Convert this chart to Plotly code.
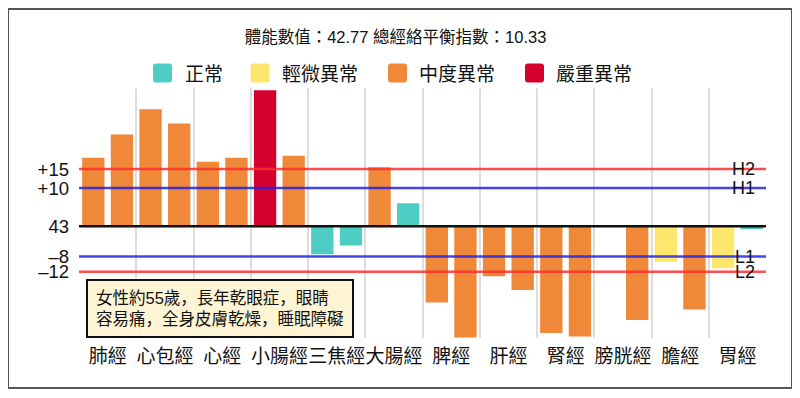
import plotly.graph_objects as go

# ---------------- data ----------------
meridians = ["肺經", "心包經", "心經", "小腸經", "三焦經", "大腸經",
             "脾經", "肝經", "腎經", "膀胱經", "膽經", "胃經"]
left_values = [18.0, 30.7, 16.9, 35.7, -7.4, 15.5, -20.1, -13.2, -28.1, 0.0, -9.4, -11.1]
right_values = [24.1, 27.0, 18.0, 18.5, -5.1, 6.0, -29.3, -16.8, -29.0, -24.7, -21.9, -0.8]
left_levels = ["中度異常", "中度異常", "中度異常", "嚴重異常", "正常", "中度異常",
               "中度異常", "中度異常", "中度異常", "正常", "輕微異常", "輕微異常"]
right_levels = ["中度異常", "中度異常", "中度異常", "中度異常", "正常", "正常",
                "中度異常", "中度異常", "中度異常", "中度異常", "中度異常", "正常"]
level_names = ["正常", "輕微異常", "中度異常", "嚴重異常"]
level_colors = ["#4ECDC4", "#FFE66D", "#F08839", "#D5002E"]
threshold_names = ["H2", "H1", "L1", "L2"]
threshold_values = [15, 10, -8, -12]
threshold_colors = ["rgba(255,45,45,0.85)", "rgba(35,35,230,0.85)",
                    "rgba(35,35,230,0.85)", "rgba(255,45,45,0.85)"]
ytick_vals = [15, 10, 0, -8, -12]
ytick_text = ["+15", "+10", "43", "–8", "–12"]
title_text = "體能數值：42.77 總經絡平衡指數：10.33"
note_text = "女性約55歲，長年乾眼症，眼睛<br>容易痛，全身皮膚乾燥，睡眠障礙"

FONT = "Liberation Sans, Noto Sans CJK TC, Arial, sans-serif"
NOTE_FONT = "Liberation Sans, Noto Sans CJK JP, Noto Sans CJK TC, sans-serif"
color_of = dict(zip(level_names, level_colors))

# page body has an 8px margin; all window-pixel positions are shifted by it
OFF = 8
FIG_W, FIG_H = 800 - OFF, 398 - OFF
# plot-area geometry (window pixels)
PL, PT, W, H = 79, 88, 687, 250
L, T = PL - OFF, PT - OFF


def px(x):
    return (x - PL) / W


def py(y):
    return (PT + H - y) / H


fig = go.Figure()
for name, vals, levels in [("左", left_values, left_levels), ("右", right_values, right_levels)]:
    fig.add_trace(go.Bar(
        x=meridians, y=vals, name=name, offsetgroup=name,
        marker=dict(color=[color_of[l] for l in levels], line=dict(width=0)),
        showlegend=False,
    ))

shapes = []
annotations = []

# zero line (value 43)
shapes.append(dict(type="line", xref="paper", x0=0, x1=1, yref="y", y0=0, y1=0,
                   line=dict(color="#111111", width=2.5), layer="above"))
# threshold lines + labels
for n, v, c in zip(threshold_names, threshold_values, threshold_colors):
    shapes.append(dict(type="line", xref="paper", x0=0, x1=1, yref="y", y0=v, y1=v,
                       line=dict(color=c, width=2.5), layer="above"))
    annotations.append(dict(text=n, xref="paper", x=1, xanchor="right", xshift=-9,
                            yref="y", y=v, yanchor="middle", showarrow=False,
                            font=dict(family=FONT, size=18, color="#111111")))


# custom legend
def rrect(x0, y0, x1, y1, r):
    def P(x, y):
        return f"{px(x):.5f},{py(y):.5f}"
    return (f"M{P(x0 + r, y0)} L{P(x1 - r, y0)} Q{P(x1, y0)} {P(x1, y0 + r)} "
            f"L{P(x1, y1 - r)} Q{P(x1, y1)} {P(x1 - r, y1)} L{P(x0 + r, y1)} "
            f"Q{P(x0, y1)} {P(x0, y1 - r)} L{P(x0, y0 + r)} Q{P(x0, y0)} {P(x0 + r, y0)} Z")


legend_sq_x = [153, 250.5, 388, 525]
legend_txt_x = [182.5, 279.5, 417, 554]
for sx, tx, n, c in zip(legend_sq_x, legend_txt_x, level_names, level_colors):
    shapes.append(dict(type="path", xref="paper", yref="paper",
                       path=rrect(sx, 63.5, sx + 19, 82.5, 3),
                       fillcolor=c, line=dict(width=0)))
    annotations.append(dict(text=n, xref="paper", x=px(tx), xanchor="left",
                            yref="paper", y=py(75), yanchor="middle", showarrow=False,
                            font=dict(family=FONT, size=19, color="#111111")))

# note box
annotations.append(dict(text=note_text, xref="paper", x=px(86), xanchor="left",
                        yref="paper", y=py(279), yanchor="top", showarrow=False,
                        align="left", bgcolor="#FFF4D4", bordercolor="#111111",
                        borderwidth=2, borderpad=8,
                        font=dict(family=NOTE_FONT, size=16.5, color="#111111")))

# outer frame
shapes.append(dict(type="rect", xref="paper", yref="paper",
                   x0=px(8), x1=px(792), y0=py(388), y1=py(9),
                   line=dict(color="#555555", width=2), layer="below"))

fig.update_layout(
    width=FIG_W, height=FIG_H,
    margin=dict(l=L, r=FIG_W - L - W, t=T, b=FIG_H - T - H),
    paper_bgcolor="white", plot_bgcolor="white",
    barmode="group", bargap=0.0, bargroupgap=0.22,
    title=dict(text=title_text, x=(395.5 - OFF) / FIG_W, xref="container", xanchor="center",
               y=1 - (37 - OFF) / FIG_H, yref="container", yanchor="middle",
               font=dict(family=FONT, size=16.5, color="#111111")),
    xaxis=dict(type="category", tickson="boundaries", showgrid=True,
               gridcolor="#dddddd", gridwidth=1.5, ticks="", showline=False,
               zeroline=False, ticklabelstandoff=5, tickangle=0, automargin=False,
               tickfont=dict(family=FONT, size=19, color="#111111")),
    yaxis=dict(range=[-29.4, 36.3], tickvals=ytick_vals, ticktext=ytick_text,
               showgrid=False, zeroline=False, showline=False, ticks="",
               ticklabelstandoff=9, automargin=False,
               tickfont=dict(family=FONT, size=18.5, color="#111111")),
    shapes=shapes, annotations=annotations,
    showlegend=False,
)

fig.write_html("out.html")
